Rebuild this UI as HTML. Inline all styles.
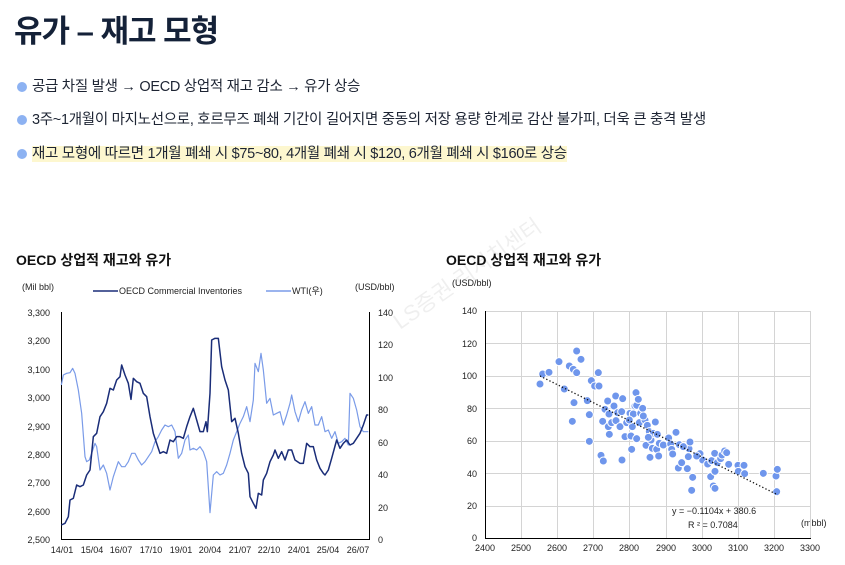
<!DOCTYPE html>
<html><head><meta charset="utf-8"><style>
body{margin:0;width:845px;height:565px;background:#fff;overflow:hidden;position:relative;font-family:"Liberation Sans","Noto Sans CJK KR",sans-serif;}
.t{position:absolute;left:14px;top:6px;font-size:31px;font-weight:bold;color:#142138;letter-spacing:-1px;}
.b{position:absolute;left:17px;font-size:14.5px;color:#1d2433;white-space:nowrap;letter-spacing:-0.3px;}
.b:before{content:"";display:inline-block;width:10px;height:10px;border-radius:50%;background:#8db2f2;margin-right:5px;vertical-align:-1px;}
.hl{background:#fdf7cf;}
.ct{position:absolute;top:250px;font-size:14px;font-weight:bold;color:#111;}
</style></head><body>
<div class="t">유가 – 재고 모형</div>
<div class="b" style="top:75px">공급 차질 발생 → OECD 상업적 재고 감소 → 유가 상승</div>
<div class="b" style="top:108px">3주~1개월이 마지노선으로, 호르무즈 폐쇄 기간이 길어지면 중동의 저장 용량 한계로 감산 불가피, 더욱 큰 충격 발생</div>
<div class="b" style="top:142px"><span class="hl">재고 모형에 따르면 1개월 폐쇄 시 $75~80, 4개월 폐쇄 시 $120, 6개월 폐쇄 시 $160로 상승</span></div>
<div class="ct" style="left:16px">OECD 상업적 재고와 유가</div>
<div class="ct" style="left:446px">OECD 상업적 재고와 유가</div>
<svg width="845" height="565" style="position:absolute;left:0;top:0" font-family="Liberation Sans, sans-serif">
<text x="400" y="330" transform="rotate(-35 400 330)" font-size="22" fill="#000" opacity="0.06" font-family="Liberation Sans, Noto Sans CJK KR, sans-serif">LS증권 리서치센터</text>
<g font-size="9" fill="#222">
<text x="22" y="290">(Mil bbl)</text>
<text x="355" y="290">(USD/bbl)</text>
<line x1="93" y1="291" x2="118" y2="291" stroke="#1a2d78" stroke-width="1.5"/>
<text x="119" y="294">OECD Commercial Inventories</text>
<line x1="266" y1="291" x2="291" y2="291" stroke="#7a9be8" stroke-width="1.5"/>
<text x="292" y="294">WTI(우)</text>
</g>
<g stroke="#000" stroke-width="1"><line x1="61.5" y1="312" x2="61.5" y2="539"/><line x1="369.5" y1="312" x2="369.5" y2="539"/><line x1="61" y1="539.5" x2="370" y2="539.5"/></g>
<g font-size="9" fill="#222" text-anchor="end">
<text x="50" y="316">3,300</text><text x="50" y="344">3,200</text><text x="50" y="373">3,100</text><text x="50" y="401">3,000</text><text x="50" y="430">2,900</text><text x="50" y="458">2,800</text><text x="50" y="486">2,700</text><text x="50" y="515">2,600</text><text x="50" y="543">2,500</text>
</g>
<g font-size="9" fill="#222">
<text x="378" y="316">140</text><text x="378" y="348">120</text><text x="378" y="381">100</text><text x="378" y="413">80</text><text x="378" y="446">60</text><text x="378" y="478">40</text><text x="378" y="511">20</text><text x="378" y="543">0</text>
</g>
<g font-size="9" fill="#222" text-anchor="middle">
<text x="62" y="553">14/01</text><text x="92" y="553">15/04</text><text x="121" y="553">16/07</text><text x="151" y="553">17/10</text><text x="181" y="553">19/01</text><text x="210" y="553">20/04</text><text x="240" y="553">21/07</text><text x="269" y="553">22/10</text><text x="299" y="553">24/01</text><text x="328" y="553">25/04</text><text x="358" y="553">26/07</text>
</g>
<g transform="translate(0,240) scale(0.33333)" fill="none" stroke-linejoin="round">
<polyline vector-effect="non-scaling-stroke" stroke="#7a9be8" stroke-width="1.2" points="184,435 190,405 200,400 210,398 218,385 225,400 235,450 245,520 255,650 260,665 268,660 275,640 285,610 290,620 300,690 310,675 320,700 330,750 340,710 350,680 355,665 365,680 375,680 385,665 395,640 405,640 415,660 425,675 435,665 445,650 455,635 465,605 475,590 485,570 495,555 505,560 515,555 525,575 535,655 545,640 555,600 565,585 570,630 580,625 590,630 600,620 610,635 620,665 630,818 640,705 650,695 660,705 670,700 680,675 690,640 700,600 710,575 720,550 730,530 740,500 750,545 760,480 765,370 775,395 783,340 790,390 800,490 810,475 820,525 830,520 840,515 850,555 860,525 870,490 875,465 885,515 895,545 905,510 915,485 925,520 935,500 945,555 955,555 965,530 975,575 985,570 995,595 1005,575 1015,610 1025,605 1035,595 1045,615 1050,460 1060,475 1070,510 1080,560 1090,575 1105,575"/>
<polyline vector-effect="non-scaling-stroke" stroke="#1a2d78" stroke-width="1.5" points="184,855 195,850 205,830 210,780 220,775 230,735 240,740 250,735 260,705 270,690 280,590 290,580 300,530 310,515 320,490 330,445 340,450 350,420 360,410 365,375 375,405 385,430 393,478 400,415 410,425 420,430 430,460 440,470 450,530 460,580 470,610 480,640 490,635 500,640 510,600 520,605 530,590 540,590 550,595 560,560 570,530 580,505 590,540 600,575 610,575 618,545 622,575 630,460 635,300 645,295 655,295 665,380 675,420 685,450 695,545 705,535 715,580 725,640 735,680 745,700 750,770 760,790 768,805 775,760 785,765 790,720 800,700 810,665 820,645 825,630 835,655 845,635 855,660 865,630 875,630 885,660 900,670 910,670 920,610 930,620 940,620 950,660 960,685 970,700 975,705 985,690 995,655 1010,600 1020,625 1030,610 1040,600 1050,615 1060,610 1070,595 1080,580 1090,555 1100,525 1105,525"/>
</g>
<g font-size="9" fill="#222"><text x="452" y="286">(USD/bbl)</text><text x="801" y="526">(mbbl)</text></g>
<g stroke="#d4d4d4" stroke-width="1">
<line x1="485" y1="311.5" x2="810" y2="311.5"/><line x1="485" y1="343.5" x2="810" y2="343.5"/><line x1="485" y1="376.5" x2="810" y2="376.5"/><line x1="485" y1="408.5" x2="810" y2="408.5"/><line x1="485" y1="441.5" x2="810" y2="441.5"/><line x1="485" y1="473.5" x2="810" y2="473.5"/><line x1="485" y1="506.5" x2="810" y2="506.5"/>
<line x1="521.5" y1="311" x2="521.5" y2="538"/><line x1="557.5" y1="311" x2="557.5" y2="538"/><line x1="593.5" y1="311" x2="593.5" y2="538"/><line x1="629.5" y1="311" x2="629.5" y2="538"/><line x1="666.5" y1="311" x2="666.5" y2="538"/><line x1="702.5" y1="311" x2="702.5" y2="538"/><line x1="738.5" y1="311" x2="738.5" y2="538"/><line x1="774.5" y1="311" x2="774.5" y2="538"/><line x1="810.5" y1="311" x2="810.5" y2="538"/>
</g>
<g stroke="#000"><line x1="485.5" y1="311" x2="485.5" y2="538"/><line x1="485" y1="538.5" x2="811" y2="538.5"/></g>
<g font-size="9" fill="#222" text-anchor="end">
<text x="477" y="314">140</text><text x="477" y="347">120</text><text x="477" y="379">100</text><text x="477" y="412">80</text><text x="477" y="444">60</text><text x="477" y="477">40</text><text x="477" y="509">20</text><text x="477" y="541">0</text>
</g>
<g font-size="9" fill="#222" text-anchor="middle">
<text x="485" y="551">2400</text><text x="521" y="551">2500</text><text x="557" y="551">2600</text><text x="593" y="551">2700</text><text x="629" y="551">2800</text><text x="666" y="551">2900</text><text x="702" y="551">3000</text><text x="738" y="551">3100</text><text x="774" y="551">3200</text><text x="810" y="551">3300</text>
</g>
<g transform="translate(430,240) scale(0.33333)" fill="#6f96ec" stroke="#fff" stroke-width="3">
<circle cx="330" cy="432" r="12"/><circle cx="338" cy="402" r="12"/><circle cx="357" cy="397" r="12"/><circle cx="387" cy="365" r="12"/><circle cx="403" cy="447" r="12"/><circle cx="418" cy="378" r="12"/><circle cx="430" cy="388" r="12"/><circle cx="440" cy="398" r="12"/><circle cx="440" cy="333" r="12"/><circle cx="453" cy="358" r="12"/><circle cx="432" cy="488" r="12"/><circle cx="427" cy="544" r="12"/><circle cx="472" cy="482" r="12"/><circle cx="478" cy="524" r="12"/><circle cx="478" cy="604" r="12"/><circle cx="484" cy="422" r="12"/><circle cx="494" cy="438" r="12"/><circle cx="505" cy="398" r="12"/><circle cx="507" cy="438" r="12"/><circle cx="513" cy="646" r="12"/><circle cx="520" cy="663" r="12"/><circle cx="518" cy="544" r="12"/><circle cx="525" cy="508" r="12"/><circle cx="533" cy="483" r="12"/><circle cx="537" cy="522" r="12"/><circle cx="535" cy="560" r="12"/><circle cx="538" cy="583" r="12"/><circle cx="545" cy="548" r="12"/><circle cx="552" cy="498" r="12"/><circle cx="557" cy="468" r="12"/><circle cx="558" cy="542" r="12"/><circle cx="563" cy="518" r="12"/><circle cx="570" cy="560" r="12"/><circle cx="575" cy="515" r="12"/><circle cx="578" cy="476" r="12"/><circle cx="576" cy="660" r="12"/><circle cx="585" cy="590" r="12"/><circle cx="590" cy="548" r="12"/><circle cx="600" cy="520" r="12"/><circle cx="603" cy="588" r="12"/><circle cx="605" cy="628" r="12"/><circle cx="607" cy="560" r="12"/><circle cx="610" cy="522" r="12"/><circle cx="615" cy="498" r="12"/><circle cx="618" cy="458" r="12"/><circle cx="620" cy="496" r="12"/><circle cx="620" cy="596" r="12"/><circle cx="625" cy="478" r="12"/><circle cx="628" cy="548" r="12"/><circle cx="632" cy="520" r="12"/><circle cx="638" cy="505" r="12"/><circle cx="645" cy="540" r="12"/><circle cx="648" cy="616" r="12"/><circle cx="652" cy="556" r="12"/><circle cx="658" cy="575" r="12"/><circle cx="660" cy="652" r="12"/><circle cx="663" cy="600" r="12"/><circle cx="667" cy="625" r="12"/><circle cx="670" cy="580" r="12"/><circle cx="676" cy="546" r="12"/><circle cx="680" cy="628" r="12"/><circle cx="686" cy="648" r="12"/><circle cx="688" cy="610" r="12"/><circle cx="700" cy="615" r="12"/><circle cx="716" cy="594" r="12"/><circle cx="722" cy="612" r="12"/><circle cx="725" cy="628" r="12"/><circle cx="728" cy="642" r="12"/><circle cx="738" cy="577" r="12"/><circle cx="745" cy="684" r="12"/><circle cx="748" cy="614" r="12"/><circle cx="755" cy="668" r="12"/><circle cx="772" cy="686" r="12"/><circle cx="775" cy="650" r="12"/><circle cx="777" cy="626" r="12"/><circle cx="780" cy="606" r="12"/><circle cx="785" cy="751" r="12"/><circle cx="788" cy="712" r="12"/><circle cx="810" cy="641" r="12"/><circle cx="818" cy="660" r="12"/><circle cx="833" cy="672" r="12"/><circle cx="842" cy="710" r="12"/><circle cx="845" cy="662" r="12"/><circle cx="850" cy="738" r="12"/><circle cx="854" cy="640" r="12"/><circle cx="855" cy="694" r="12"/><circle cx="855" cy="745" r="12"/><circle cx="862" cy="668" r="12"/><circle cx="872" cy="656" r="12"/><circle cx="876" cy="645" r="12"/><circle cx="884" cy="633" r="12"/><circle cx="890" cy="638" r="12"/><circle cx="896" cy="673" r="12"/><circle cx="924" cy="676" r="12"/><circle cx="925" cy="694" r="12"/><circle cx="942" cy="676" r="12"/><circle cx="944" cy="701" r="12"/><circle cx="1000" cy="700" r="12"/><circle cx="1038" cy="708" r="12"/><circle cx="1042" cy="688" r="12"/><circle cx="1040" cy="755" r="12"/><circle cx="682" cy="583" r="12"/><circle cx="655" cy="592" r="12"/><circle cx="640" cy="528" r="12"/><circle cx="598" cy="540" r="12"/><circle cx="760" cy="620" r="12"/><circle cx="800" cy="648" r="12"/>
</g>
<line x1="540" y1="376" x2="778" y2="495" stroke="#111" stroke-width="1.3" stroke-dasharray="1.3 2.2"/>
<g font-size="9" fill="#222"><text x="672" y="514">y = −0.1104x + 380.6</text><text x="688" y="528">R ² = 0.7084</text></g>
</svg>
</body></html>
